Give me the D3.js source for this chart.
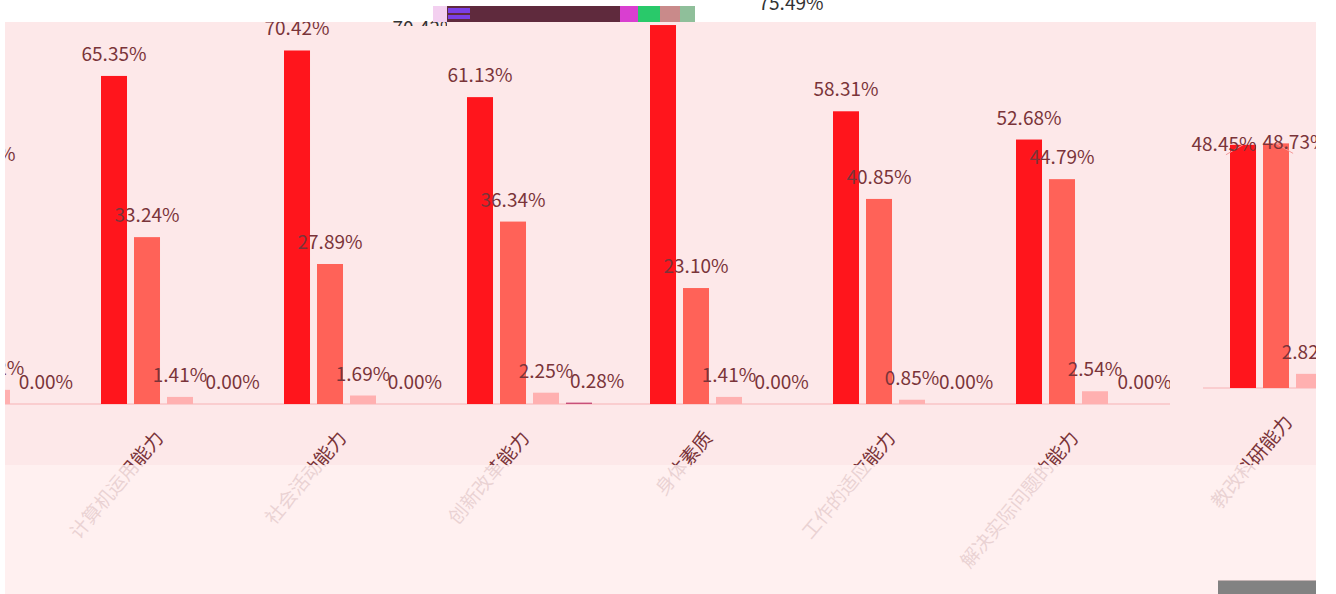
<!DOCTYPE html>
<html lang="zh">
<head>
<meta charset="utf-8">
<title>能力评价</title>
<script src="https://d3js.org/d3.v7.min.js"></script>
<style>
  body { margin: 0; background: #fff; }
  svg { display: block; font-family: "Noto Sans CJK SC", "Noto Sans", sans-serif; }
  .val { font-size: 19px; text-anchor: middle; }
  .cat { font-size: 19px; text-anchor: end; }
</style>
</head>
<body>
<svg width="1336" height="594"></svg>
<script>
  // data
  var categories = ["专业知识水平", "计算机运用能力", "社会活动能力", "创新改革能力", "身体素质", "工作的适应能力", "解决实际问题的能力", "教改科研能力"];
  var seriesNames = ["很好", "较好", "一般", "较差"];
  var good   = [47.61, 65.35, 70.42, 61.13, 75.49, 58.31, 52.68, 48.45];
  var fair   = [49.58, 33.24, 27.89, 36.34, 23.10, 40.85, 44.79, 48.73];
  var normal = [2.82, 1.41, 1.69, 2.25, 1.41, 0.85, 2.54, 2.82];
  var poor   = [0.00, 0.00, 0.00, 0.28, 0.00, 0.00, 0.00, 0.00];
  var series = [good, fair, normal, poor];
  var colors = ["#ff151c", "#ff6258", "#ffb0b0", "#c8507a"];

  var svg = d3.select("svg"),
      width = +svg.attr("width"),
      height = +svg.attr("height");

  var baseY = 404;

  // the chart is wider than the window, first group only peeks in on the left
  var x0 = d3.scaleBand()
    .domain(categories)
    .range([-111, 1353])
    .paddingInner(0.317)
    .paddingOuter(0.1585);
  var x1 = d3.scaleBand()
    .domain(seriesNames)
    .range([0, x0.bandwidth()])
    .paddingInner(0.212);
  var y = d3.scaleLinear()
    .domain([0, 80])
    .range([baseY, 2.4]);

  var defs = svg.append("defs");
  function clip(id, rects) {
    var cp = defs.append("clipPath").attr("id", id);
    rects.forEach(function(r) {
      cp.append("rect").attr("x", r[0]).attr("y", r[1]).attr("width", r[2]).attr("height", r[3]);
    });
  }
  clip("clipMain", [[5, 22, 1155, 572], [1160, 300, 10, 294]]);
  clip("clipShift", [[1186, 22, 130, 300], [1203, 322, 113, 272]]);
  clip("clipGhost", [[390, 0, 57, 26], [740, 0, 100, 22]]);

  // background
  svg.append("rect").attr("x", 5).attr("y", 22).attr("width", 1311).attr("height", 572)
    .attr("fill", "#fde8e9");

  // work out label boxes, push apart the ones that collide
  function layoutLabels(g) {
    var out = [];
    categories.forEach(function(c, ci) {
      var row = series.map(function(s, si) {
        var cx = x0(c) + x1(seriesNames[si]) + x1.bandwidth() / 2;
        var top = y(s[ci]);
        var txt = s[ci].toFixed(2) + "%";
        var t = g.append("text").attr("class", "val").text(txt);
        var w = t.node().getComputedTextLength();
        t.remove();
        return {cat: c, si: si, v: s[ci], txt: txt, bx: cx, top: top, x: cx, y: top - 15, w: w, line: false};
      });
      for (var i = 1; i < row.length; i++) {
        var a = row[i - 1], b = row[i];
        var ov = (a.w + b.w) / 2 - (b.x - a.x);
        var dy = Math.abs(a.y - b.y);
        if (ov > 0 && dy < 20) {
          if (dy < 12 && a.v > 8 && b.v > 8) {
            a.x -= ov / 2 + 3; b.x += ov / 2 + 3;
            a.y += 21; b.y += 21;
            a.line = b.line = true;
          } else {
            b.x += ov * (1 - dy / 40) + 2;
          }
        }
      }
      out = out.concat(row);
    });
    return out;
  }

  function drawChart(g, opts) {
    var labels = layoutLabels(g);
    if (!opts.labelsOnly) {
      g.append("line")
        .attr("x1", x0.range()[0]).attr("x2", x0.range()[1])
        .attr("y1", baseY).attr("y2", baseY)
        .attr("stroke", "#f9c4c6").attr("stroke-width", 1.5);

      var grp = g.selectAll(".grp")
        .data(categories)
        .enter().append("g")
        .attr("class", "grp")
        .attr("transform", function(d) { return "translate(" + x0(d) + ",0)"; });
      grp.selectAll("rect")
        .data(function(d, ci) { return series.map(function(s, si) { return {si: si, v: s[ci]}; }); })
        .enter().append("rect")
        .attr("x", function(d) { return x1(seriesNames[d.si]); })
        .attr("width", x1.bandwidth())
        .attr("y", function(d) { return y(d.v); })
        .attr("height", function(d) { return baseY - y(d.v); })
        .attr("fill", function(d) { return colors[d.si]; });

      g.selectAll(".lline")
        .data(labels.filter(function(d) { return d.line; }))
        .enter().append("line")
        .attr("x1", function(d) { return d.x + (d.bx - d.x) * 0.1; })
        .attr("y1", function(d) { return d.y + 4; })
        .attr("x2", function(d) { return d.bx; })
        .attr("y2", function(d) { return d.top; })
        .attr("stroke", "#f59a9a").attr("stroke-width", 1);

      g.selectAll(".cat")
        .data(categories)
        .enter().append("text")
        .attr("class", "cat")
        .attr("dominant-baseline", "middle")
        .attr("transform", function(d) {
          return "translate(" + (x0(d) + x0.bandwidth() / 2 - 3) + "," + (baseY + 31) + ") rotate(-50)";
        })
        .attr("fill", "#7a3439")
        .text(function(d) { return d; });
    }

    g.selectAll(".val")
      .data(labels)
      .enter().append("text")
      .attr("class", "val")
      .attr("x", function(d) { return d.x; })
      .attr("y", function(d) { return d.y; })
      .attr("fill", opts.labelColor)
      .text(function(d) { return d.txt; });
  }

  drawChart(svg.append("g").attr("clip-path", "url(#clipMain)"), {labelColor: "#7a3439"});
  drawChart(svg.append("g").attr("clip-path", "url(#clipShift)")
      .append("g").attr("transform", "translate(31,-16)"), {labelColor: "#7a3439"});

  // washed out lower band of the screenshot
  svg.append("rect").attr("x", 5).attr("y", 465).attr("width", 1311).attr("height", 129)
    .attr("fill", "#fff1f1").attr("opacity", 0.84);

  // broken strip at the top
  svg.append("rect").attr("x", 0).attr("y", 0).attr("width", width).attr("height", 22).attr("fill", "#fff");
  drawChart(svg.append("g").attr("clip-path", "url(#clipGhost)")
      .append("g").attr("transform", "translate(128,0)"), {labelColor: "#333", labelsOnly: true});
  var strip = svg.append("g");
  strip.append("rect").attr("x", 447).attr("y", 6).attr("width", 248).attr("height", 16).attr("fill", "#5f2a3d");
  strip.append("rect").attr("x", 433).attr("y", 6).attr("width", 14).attr("height", 16).attr("fill", "#f3d0f0");
  strip.append("rect").attr("x", 448).attr("y", 8).attr("width", 22).attr("height", 5).attr("fill", "#7b3fe6");
  strip.append("rect").attr("x", 448).attr("y", 15).attr("width", 22).attr("height", 4).attr("fill", "#7b3fe6");
  strip.append("rect").attr("x", 620).attr("y", 6).attr("width", 18).attr("height", 16).attr("fill", "#d93fd0");
  strip.append("rect").attr("x", 638).attr("y", 6).attr("width", 22).attr("height", 16).attr("fill", "#29c96a");
  strip.append("rect").attr("x", 660).attr("y", 6).attr("width", 20).attr("height", 16).attr("fill", "#c98a8a");
  strip.append("rect").attr("x", 680).attr("y", 6).attr("width", 15).attr("height", 16).attr("fill", "#8fbf9a");

  // bottom right grey block
  svg.append("rect").attr("x", 1218).attr("y", 580).attr("width", 98).attr("height", 14).attr("fill", "#828282");
  svg.append("line").attr("x1", 1218).attr("x2", 1316).attr("y1", 580.5).attr("y2", 580.5).attr("stroke", "#c4b4b4");

  svg.append("rect").attr("x", 1316).attr("y", 0).attr("width", width - 1316).attr("height", height).attr("fill", "#fff");
</script>
</body>
</html>
